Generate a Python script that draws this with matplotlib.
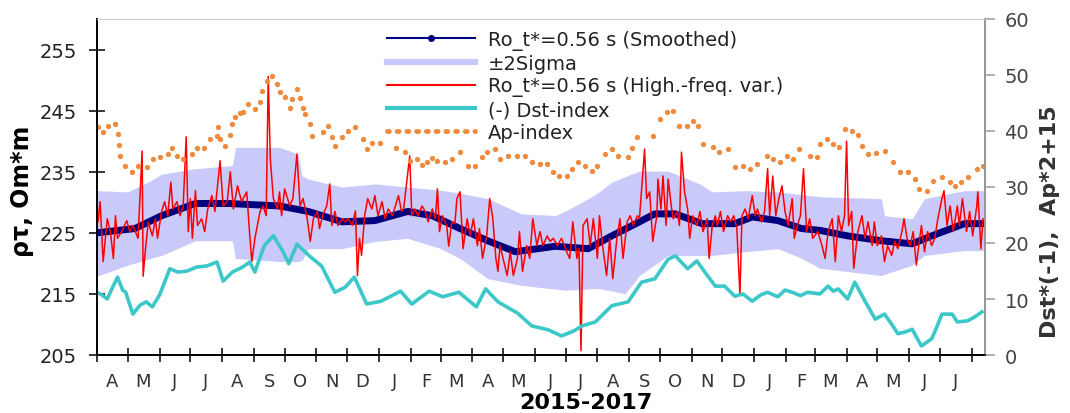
#!/usr/bin/env python3
# -*- coding: utf-8 -*-

"""Apparent resistivity vs geomagnetic indices, Apr 2015 - Aug 2017.

Writes out.png (1070x414 px).
"""

import numpy as np
import matplotlib

matplotlib.use("Agg")
import matplotlib.pyplot as plt
import matplotlib.dates as mdates
from matplotlib.lines import Line2D
from matplotlib.ticker import FuncFormatter, NullFormatter

plt.rcParams["font.family"] = ["DejaVu Sans"]

START = np.datetime64("2015-04-01")
END = np.datetime64("2017-08-14")

# --- smoothed rho_t (days since 2015-04-01, Om*m)
smooth_day = [0, 37, 63, 96, 128, 178, 206, 239, 271, 303, 327, 354, 381, 408,
              447, 479, 502, 529, 544, 564, 590, 622, 639, 664, 687, 705, 732,
              765, 795, 814, 846, 866]
smooth_val = [225.0, 225.7, 227.8, 229.8, 229.8, 229.4, 228.5, 226.8, 227.0,
              228.5, 227.8, 225.7, 223.7, 221.9, 222.8, 222.4, 224.5, 226.8,
              228.1, 228.1, 226.5, 226.5, 227.6, 227.0, 225.7, 225.4, 224.5,
              223.7, 223.2, 224.5, 226.5, 226.5]

# --- +-2 sigma band
band_day = [0, 30, 52, 63, 96, 132, 135, 178, 196, 200, 206, 239, 271, 303, 334,
            346, 354, 381, 414, 440, 447, 456, 479, 488, 502, 515, 529, 557, 588,
            600, 632, 664, 685, 705, 765, 768, 795, 807, 846, 866]
band_upper = [231.9, 231.7, 233.5, 234.6, 235.5, 236.0, 239.0, 239.0, 237.9,
              234.3, 233.8, 232.5, 233.0, 232.5, 232.0, 231.7, 231.5, 230.6,
              228.1, 227.9, 227.8, 228.5, 230.6, 231.5, 233.3, 234.2, 235.1,
              235.1, 233.0, 231.7, 231.9, 231.7, 231.3, 230.9, 230.6, 227.8,
              227.3, 230.6, 231.9, 231.9]
band_lower = [217.9, 219.7, 220.8, 221.3, 223.7, 223.7, 220.8, 220.3, 220.3,
              220.5, 222.4, 222.4, 223.6, 224.1, 222.5, 221.5, 220.8, 217.5,
              216.4, 215.9, 215.8, 215.6, 215.8, 215.9, 215.5, 215.0, 218.0,
              221.3, 221.3, 221.3, 221.9, 222.4, 221.0, 219.2, 218.0, 218.2,
              219.7, 221.3, 222.1, 222.1]

# --- high-frequency variations of rho_t
hf_day = [1, 3, 6, 10, 13, 16, 18, 20, 24, 29, 32, 35, 40, 44, 45, 47, 50, 54,
          57, 59, 63, 66, 69, 72, 74, 78, 81, 84, 87, 89, 91, 93, 96, 98, 102,
          105, 108, 112, 115, 120, 123, 127, 130, 133, 137, 141, 146, 149, 151,
          154, 159, 162, 165, 167, 169, 172, 176, 178, 180, 183, 188, 191, 195,
          198, 201, 205, 208, 211, 215, 217, 220, 224, 227, 229, 232, 235, 239,
          242, 245, 249, 252, 254, 256, 258, 261, 264, 268, 271, 274, 278, 281,
          284, 288, 291, 294, 297, 299, 305, 307, 310, 313, 317, 320, 323, 327,
          330, 332, 334, 337, 341, 343, 346, 349, 351, 354, 357, 361, 364, 367,
          371, 373, 376, 380, 383, 386, 389, 391, 393, 396, 400, 403, 406, 410,
          412, 415, 419, 422, 425, 429, 432, 435, 439, 442, 445, 449, 453, 458,
          461, 464, 468, 470, 472, 474, 478, 481, 484, 488, 490, 493, 497, 500,
          503, 507, 510, 513, 517, 520, 523, 527, 529, 534, 536, 539, 542, 546,
          547, 550, 552, 555, 557, 560, 562, 566, 568, 570, 573, 576, 578, 581,
          585, 588, 591, 595, 597, 600, 603, 605, 608, 611, 615, 618, 621, 624,
          627, 629, 632, 635, 639, 642, 644, 648, 651, 654, 656, 659, 662, 665,
          668, 671, 674, 678, 680, 683, 686, 689, 692, 695, 698, 703, 707, 710,
          713, 717, 720, 723, 726, 729, 731, 733, 736, 738, 742, 746, 749, 752,
          756, 758, 761, 765, 768, 771, 775, 778, 781, 785, 787, 790, 793, 796,
          799, 801, 804, 807, 810, 814, 817, 820, 824, 826, 829, 832, 835, 839,
          841, 844, 848, 851, 854, 858, 859, 862, 864]
hf_val = [226.8, 230.1, 220.3, 227.3, 225.2, 220.8, 227.8, 224.1, 225.2, 227.0,
          225.2, 226.2, 224.1, 238.4, 217.9, 221.9, 226.8, 224.5, 227.3, 224.1,
          228.5, 230.1, 227.8, 233.3, 228.9, 230.1, 227.8, 229.3, 240.7, 225.2,
          230.6, 224.1, 231.9, 226.2, 227.3, 225.2, 228.9, 231.1, 228.5, 236.8,
          229.4, 230.1, 235.0, 228.9, 232.7, 230.1, 231.7, 224.5, 220.3, 224.1,
          228.5, 229.4, 227.8, 250.6, 237.1, 230.6, 228.9, 231.7, 227.8, 232.2,
          229.4, 230.6, 237.9, 229.4, 230.6, 227.3, 223.6, 227.3, 228.5, 225.7,
          227.8, 229.4, 233.0, 226.2, 228.5, 226.2, 227.3, 226.8, 227.3, 226.2,
          228.6, 218.0, 224.1, 221.3, 227.8, 230.6, 228.9, 231.1, 227.8, 230.1,
          227.3, 228.9, 227.8, 229.4, 231.1, 228.5, 228.9, 237.6, 227.8, 228.9,
          227.8, 229.4, 228.5, 226.8, 228.9, 227.3, 232.2, 225.2, 227.8, 226.2,
          222.8, 226.8, 226.5, 230.6, 231.7, 222.4, 227.3, 224.5, 227.3, 222.9,
          225.7, 220.8, 224.5, 230.6, 227.3, 220.8, 218.7, 222.9, 220.8, 218.0,
          221.9, 218.0, 220.8, 225.2, 218.7, 222.9, 220.8, 227.3, 222.9, 225.2,
          222.9, 224.5, 223.6, 224.1, 222.9, 224.1, 221.9, 220.8, 226.8, 220.8,
          222.4, 205.7, 226.2, 227.3, 222.9, 227.3, 220.8, 227.8, 222.9, 218.0,
          224.1, 217.5, 224.1, 227.3, 220.8, 226.8, 227.8, 226.2, 227.8, 227.3,
          238.7, 230.6, 231.7, 223.6, 227.8, 233.8, 228.9, 234.3, 226.2, 233.8,
          229.4, 227.3, 228.5, 226.2, 238.2, 231.7, 228.9, 224.1, 227.8, 226.2,
          228.5, 225.2, 227.3, 220.8, 226.2, 227.8, 226.2, 228.5, 225.2, 227.8,
          226.8, 227.8, 225.7, 214.8, 227.8, 228.9, 227.3, 231.1, 227.8, 228.9,
          226.8, 228.5, 235.5, 227.8, 234.3, 227.8, 230.6, 232.7, 228.5, 226.2,
          230.6, 224.1, 226.2, 227.8, 235.5, 225.2, 227.3, 224.1, 225.2, 222.9,
          220.8, 225.2, 227.3, 220.3, 227.8, 225.2, 227.8, 240.0, 226.2, 228.5,
          219.2, 225.2, 227.8, 224.1, 226.8, 222.9, 226.8, 222.9, 224.5, 220.3,
          222.9, 221.3, 223.6, 222.4, 225.2, 227.3, 224.1, 222.9, 225.2, 219.7,
          222.4, 226.2, 221.9, 225.2, 222.9, 224.1, 227.3, 230.6, 231.9, 226.2,
          229.4, 225.2, 229.4, 226.2, 230.6, 225.2, 228.5, 224.5, 229.4, 231.7,
          222.4, 227.3]

# --- (-) Dst index, right axis
dst_day = [0, 5, 10, 15, 20, 25, 28, 35, 42, 48, 54, 61, 71, 79, 88, 97, 107,
           117, 123, 132, 142, 149, 154, 163, 172, 181, 187, 195, 207, 219, 232,
           242, 251, 263, 277, 296, 307, 324, 337, 353, 370, 379, 391, 410,
           424, 440, 453, 465, 473, 486, 502, 518, 531, 544, 557, 564, 576,
           585, 594, 603, 612, 622, 630, 639, 647, 654, 664, 671, 678, 686,
           693, 705, 713, 718, 723, 732, 739, 749, 759, 768, 775, 781, 788,
           795, 804, 814, 819, 824, 834, 839, 849, 856, 863]
dst_val = [11.2, 10.7, 10.0, 12.0, 13.9, 11.6, 11.2, 7.3, 8.9, 9.5, 8.6, 10.7,
           15.4, 14.8, 15.0, 15.7, 15.9, 16.6, 13.2, 14.8, 15.7, 16.6, 14.8,
           19.5, 21.3, 18.6, 16.3, 19.8, 17.7, 15.9, 11.2, 12.1, 13.9, 9.1, 9.6,
           11.4, 9.1, 11.4, 10.4, 11.2, 8.6, 11.8, 9.5, 7.5, 5.2, 4.5, 3.4,
           4.3, 5.2, 5.9, 8.8, 9.5, 13.0, 13.6, 17.1, 17.7, 15.4, 16.8, 14.5,
           12.3, 12.3, 10.5, 10.9, 9.6, 10.7, 11.2, 10.4, 11.6, 11.2, 10.6,
           11.2, 10.9, 12.3, 11.4, 11.8, 10.0, 13.0, 9.6, 6.4, 7.3, 5.5, 3.8,
           4.1, 4.6, 1.6, 2.9, 5.0, 7.3, 7.3, 5.9, 6.1, 6.8, 7.7]

# --- Ap index (*2+15), right axis
ap_day = [1, 6, 11, 18, 20, 21, 22, 27, 34, 40, 49, 55, 61, 69, 73, 78, 84, 93,
          98, 104, 110, 117, 118, 120, 125, 130, 132, 135, 139, 142, 147, 154,
          159, 161, 166, 171, 176, 178, 183, 188, 190, 195, 198, 201, 203, 208,
          210, 220, 225, 229, 232, 239, 245, 252, 259, 263, 268, 276, 292, 300,
          305, 312, 317, 322, 327, 332, 339, 346, 354, 362, 369, 375, 380, 388,
          393, 401, 410, 417, 424, 432, 439, 445, 451, 458, 463, 469, 476, 483,
          488, 495, 502, 508, 518, 522, 527, 542, 549, 556, 562, 568, 575, 581,
          586, 591, 601, 607, 615, 622, 630, 637, 644, 653, 659, 666, 673, 679,
          685, 695, 702, 705, 712, 718, 724, 729, 736, 742, 746, 752, 760, 768,
          776, 783, 791, 798, 802, 809, 815, 824, 832, 837, 843, 849, 858, 864]
ap_val = [40.7, 39.8, 40.9, 41.3, 39.5, 37.5, 35.5, 33.8, 32.7, 33.8, 33.6,
          35.0, 35.4, 35.9, 37.0, 35.5, 35.0, 35.9, 37.0, 37.0, 38.6, 39.1,
          40.7, 38.6, 37.3, 39.3, 41.3, 42.5, 43.2, 43.4, 44.8, 43.9, 45.2,
          47.1, 48.9, 49.8, 48.4, 47.0, 46.1, 44.1, 45.7, 47.5, 45.9, 44.1,
          43.0, 41.3, 39.1, 39.8, 40.9, 38.9, 37.3, 38.9, 40.0, 40.7, 38.6,
          36.8, 37.9, 37.9, 37.0, 36.3, 34.6, 35.0, 33.9, 34.5, 35.2, 34.6,
          34.5, 35.0, 36.3, 33.8, 33.8, 35.4, 36.2, 36.8, 35.0, 35.5, 35.5,
          35.5, 34.5, 34.1, 34.1, 32.7, 32.0, 32.0, 33.2, 34.5, 33.8, 32.9,
          33.8, 35.9, 36.8, 35.5, 35.4, 37.0, 38.9, 39.1, 42.1, 43.4, 43.6,
          40.9, 40.9, 41.8, 40.9, 37.7, 37.1, 36.3, 36.8, 33.6, 33.8, 33.2,
          34.1, 35.5, 35.0, 34.5, 35.5, 35.0, 36.8, 35.5, 35.4, 37.7, 38.6,
          37.7, 37.1, 40.4, 40.0, 39.3, 37.3, 35.9, 36.1, 36.4, 34.5, 32.7,
          32.7, 31.4, 29.6, 29.3, 31.1, 31.8, 30.9, 30.2, 30.9, 31.8, 33.2,
          33.8]

left_ticks = [205, 215, 225, 235, 245, 255]
right_ticks = [0, 10, 20, 30, 40, 50, 60]

NAVY = "#00007f"
BAND = "#cacafa"
RED = "#ff0000"
CYAN = "#3cc8c8"
ORANGE = "#f08a3c"


def to_dates(days):
    return START + np.array(days, dtype="timedelta64[D]")


def month_letter(x, pos=None):
    return mdates.num2date(x).strftime("%b")[0]


def main():
    fig = plt.figure(figsize=(10.7, 4.14), dpi=100)
    ax = fig.add_axes([97 / 1070, 1 - 356 / 414, 888 / 1070, 336 / 414])
    ax2 = ax.twinx()

    # left axis: resistivity
    ax.fill_between(to_dates(band_day), band_lower, band_upper,
                    color=BAND, lw=0, zorder=1)
    ax.plot(to_dates(smooth_day), smooth_val, color=NAVY, lw=5,
            solid_capstyle="round", zorder=2)
    ax.plot(to_dates(hf_day), hf_val, color=RED, lw=1.1, zorder=3)

    # right axis: indices
    ax2.plot(to_dates(dst_day), dst_val, color=CYAN, lw=2.6, zorder=2)
    ax2.plot(to_dates(ap_day), ap_val, ls="none", marker="o", ms=3.8,
             color=ORANGE, mec="none", zorder=2)

    ax.set_ylim(205, 260)
    ax2.set_ylim(0, 60)
    ax.set_xlim(START, END)
    ax.set_yticks(left_ticks)
    ax2.set_yticks(right_ticks)

    ax.xaxis.set_major_locator(mdates.MonthLocator())
    ax.xaxis.set_major_formatter(NullFormatter())
    ax.xaxis.set_minor_locator(mdates.MonthLocator(bymonthday=16))
    ax.xaxis.set_minor_formatter(FuncFormatter(month_letter))

    ax.tick_params(axis="x", which="major", direction="inout", length=10,
                   width=1.1, color="black")
    ax.tick_params(axis="x", which="minor", length=0, pad=12,
                   labelsize=13, labelcolor="#333333")
    ax.tick_params(axis="y", direction="inout", length=11, width=1.1,
                   pad=9, labelsize=14, labelcolor="#222222")
    ax2.tick_params(axis="y", direction="out", length=7, width=1.1,
                    color="#999999", pad=7, labelsize=14, labelcolor="#444444")

    for a in (ax, ax2):
        a.spines["left"].set_color("black")
        a.spines["bottom"].set_color("black")
        a.spines["left"].set_linewidth(1.2)
        a.spines["bottom"].set_linewidth(1.2)
        a.spines["right"].set_color("#999999")
        a.spines["right"].set_linewidth(1.4)
        a.spines["top"].set_color("#cccccc")
        a.spines["top"].set_linewidth(0.8)

    fig.text(22 / 1070, 1 - 191 / 414, "\u03c1\u03c4, Om*m", rotation=90,
             ha="center", va="center", fontsize=17, fontweight="bold")
    fig.text(1050 / 1070, 1 - 222 / 414, "Dst*(-1),  Ap*2+15", rotation=90,
             ha="center", va="center", fontsize=16, fontweight="bold",
             color="#333333")
    fig.text(586 / 1070, 1 / 414, "2015-2017", ha="center",
             va="bottom", fontsize=16, fontweight="bold")

    handles = [
        Line2D([], [], color=NAVY, lw=1.5, marker="o", ms=4),
        Line2D([], [], color=BAND, lw=4.5),
        Line2D([], [], color=RED, lw=1.5),
        Line2D([], [], color=CYAN, lw=3),
        Line2D([], [], color=ORANGE, lw=3.5, ls=(0, (0.4, 1.6)),
               dash_capstyle="round"),
    ]
    labels = ["Ro_t*=0.56 s (Smoothed)", "\u00b12Sigma",
              "Ro_t*=0.56 s (High.-freq. var.)", "(-) Dst-index", "Ap-index"]
    leg = ax2.legend(handles, labels, loc="upper left",
                     bbox_to_anchor=(387 / 1070, 1 - 31 / 414),
                     bbox_transform=fig.transFigure, frameon=False,
                     fontsize=14, handlelength=4.5, handletextpad=0.7,
                     labelspacing=0.19, borderpad=0, borderaxespad=0)
    for t in leg.get_texts():
        t.set_color("#222222")

    fig.savefig("out.png", dpi=100)
    plt.close(fig)


if __name__ == "__main__":
    main()
